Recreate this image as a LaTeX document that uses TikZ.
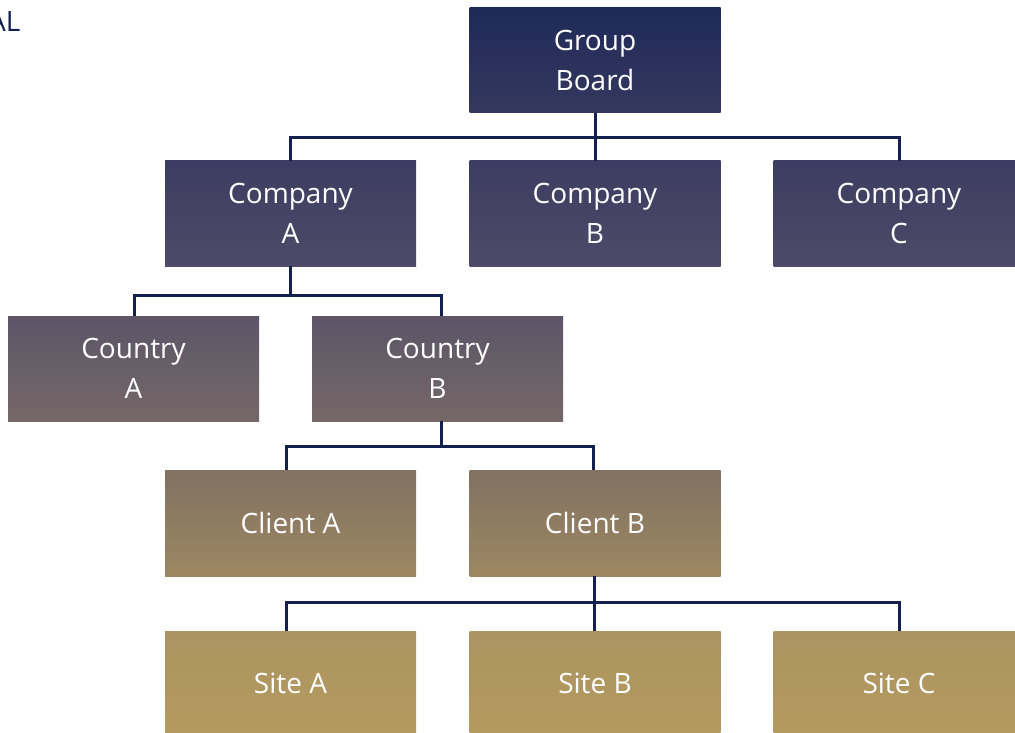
\documentclass[tikz,border=0pt]{standalone}
\usepackage{fontspec}
\setmainfont{Open Sans}
\definecolor{linec}{HTML}{14214F}
\definecolor{gbT}{HTML}{1F2A59}
\definecolor{gbB}{HTML}{35385E}
\definecolor{coT}{HTML}{3C3D62}
\definecolor{coB}{HTML}{4E4A68}
\definecolor{cyT}{HTML}{5D5568}
\definecolor{cyB}{HTML}{756868}
\definecolor{clT}{HTML}{817262}
\definecolor{clB}{HTML}{9D8762}
\definecolor{siT}{HTML}{AB9460}
\definecolor{siB}{HTML}{B59A5E}
\begin{document}
\begin{tikzpicture}[x=1pt,y=-1pt,
  box/.style={rectangle, minimum width=251pt, minimum height=105pt, inner sep=0pt,
    text=white, align=center, font=\fontsize{28}{40}\selectfont},
  gbbox/.style={box, top color=gbT, bottom color=gbB},
  cobox/.style={box, top color=coT, bottom color=coB},
  cybox/.style={box, top color=cyT, bottom color=cyB},
  clbox/.style={box, top color=clT, bottom color=clB},
  sibox/.style={box, top color=siT, bottom color=siB},
  conn/.style={draw=linec, line width=3pt}]
\useasboundingbox (0,0) rectangle (1015,733);
\clip (0,0) rectangle (1015,733);
\node[anchor=east, text=linec, font=\fontsize{28}{30}\selectfont] (al) at (24,21) {AL};
\node[gbbox] (gb) at (595,60.5) {Group\\Board};
\node[cobox] (ca) at (290.5,213.5) {Company\\A};
\node[cobox] (cb) at (595,213.5) {Company\\B};
\node[cobox] (cc) at (899,213.5) {Company\\C};
\node[cybox] (ya) at (133.5,368.5) {Country\\A};
\node[cybox] (yb) at (437.5,368.5) {Country\\B};
\node[clbox, minimum height=106pt] (la) at (290.5,523) {Client A};
\node[clbox, minimum height=106pt] (lb) at (595,523) {Client B};
\node[sibox] (sa) at (290.5,683.5) {Site A};
\node[sibox] (sb) at (595,683.5) {Site B};
\node[sibox] (sc) at (899,683.5) {Site C};
\coordinate (j1) at (595,138);
\coordinate (j2) at (290.5,295);
\coordinate (j3) at (441.5,446);
\coordinate (j4) at (594,602);
\draw[conn] (gb.south) -- (j1);
\draw[conn] (j1) -| (ca.north);
\draw[conn] (j1) -| (cc.north);
\draw[conn] (j1) -- (cb.north);
\draw[conn] (ca.south) -- (j2);
\draw[conn] (j2) -| ([xshift=0.5pt]ya.north);
\draw[conn] (j2) -| ([xshift=4pt]yb.north);
\draw[conn] ([xshift=4pt]yb.south) -- (j3);
\draw[conn] (j3) -| ([xshift=-4.5pt]la.north);
\draw[conn] (j3) -| ([xshift=-1.5pt]lb.north);
\draw[conn] ([xshift=-1pt]lb.south) -- (j4);
\draw[conn] (j4) -| ([xshift=-4.5pt]sa.north);
\draw[conn] (j4) -| (sc.north);
\draw[conn] (j4) -- ([xshift=-1pt]sb.north);
\end{tikzpicture}
\end{document}
